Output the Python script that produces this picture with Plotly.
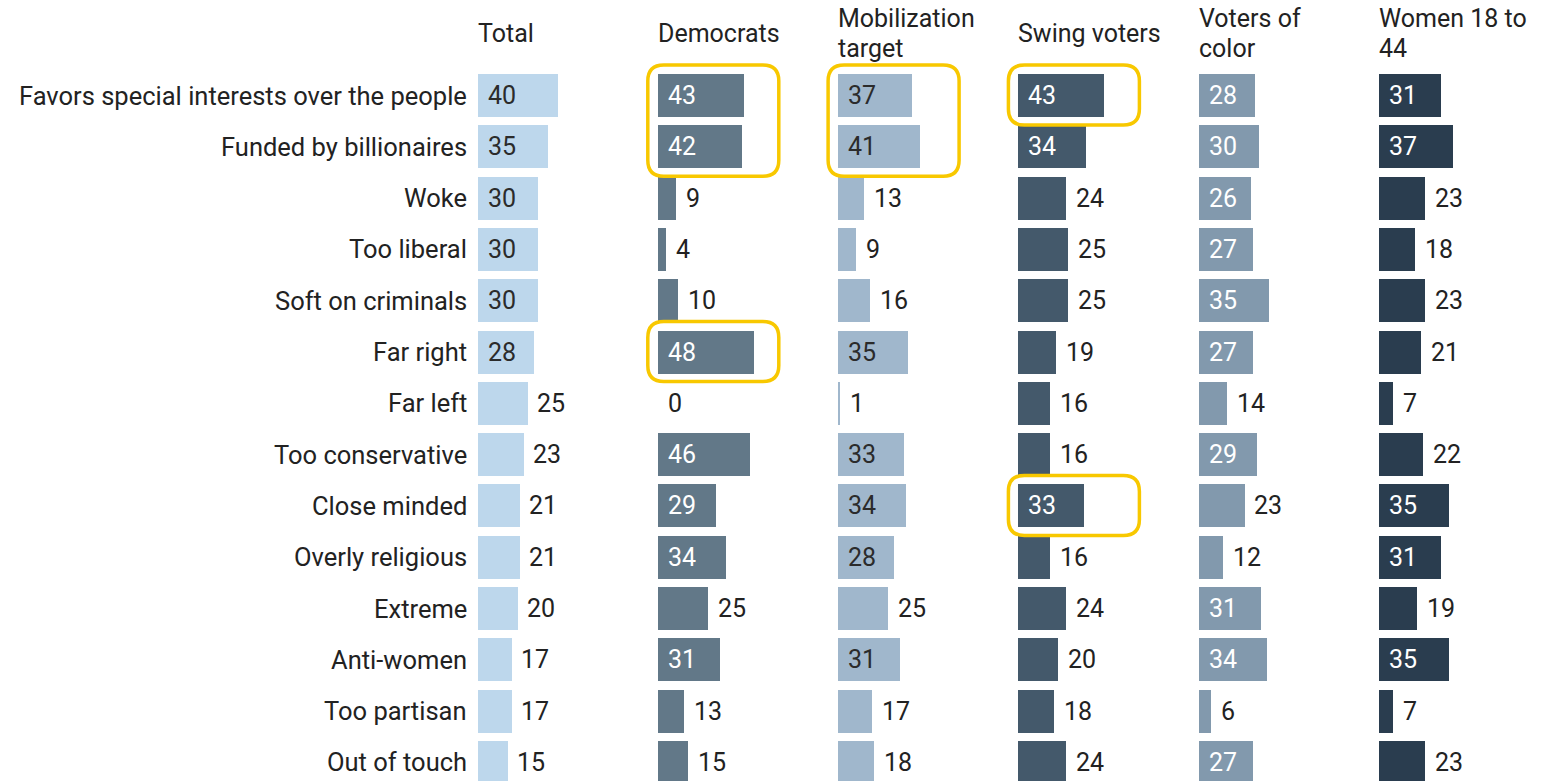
import plotly.graph_objects as go

# Attributes (rows, top to bottom)
attributes = [
    "Favors special interests over the people",
    "Funded by billionaires",
    "Woke",
    "Too liberal",
    "Soft on criminals",
    "Far right",
    "Far left",
    "Too conservative",
    "Close minded",
    "Overly religious",
    "Extreme",
    "Anti-women",
    "Too partisan",
    "Out of touch",
]

# Groups (columns); each header may wrap onto two lines
groups = [["Total"], ["Democrats"], ["Mobilization", "target"], ["Swing voters"],
          ["Voters of", "color"], ["Women 18 to", "44"]]

total = [40, 35, 30, 30, 30, 28, 25, 23, 21, 21, 20, 17, 17, 15]
democrats = [43, 42, 9, 4, 10, 48, 0, 46, 29, 34, 25, 31, 13, 15]
mobilization = [37, 41, 13, 9, 16, 35, 1, 33, 34, 28, 25, 31, 17, 18]
swing = [43, 34, 24, 25, 25, 19, 16, 16, 33, 16, 24, 20, 18, 24]
voters_of_color = [28, 30, 26, 27, 35, 27, 14, 29, 23, 12, 31, 34, 6, 27]
women_18_44 = [31, 37, 23, 18, 23, 21, 7, 22, 35, 31, 19, 35, 7, 23]

series = [total, democrats, mobilization, swing, voters_of_color, women_18_44]

# Highlighted cells: (column index, first row, last row)
highlights = [(1, 0, 1), (2, 0, 1), (3, 0, 0), (1, 5, 5), (3, 8, 8)]

# Styling
bar_colors = ["#bdd7ec", "#627888", "#a0b7cc", "#44596b", "#8299ad", "#2a3d4f"]
inside_text_colors = ["#2b2b2b", "white", "#2b2b2b", "white", "white", "white"]
text_color = "#222222"
box_color = "#f8c800"
font_family = "Roboto, Arial, sans-serif"
font_size = 25
label_font_size = 25.5

W, H = 1560, 781
px_per_unit = 1.99          # horizontal scale, pixels per percentage point
col_start = 477.5           # pixel x of the first column's baseline
col_pitch = 180.3           # distance between columns
col_lead = 16               # room left of each baseline (for highlight boxes)
col_width = 160             # pixel width right of the baseline
row0_center = 95.5          # pixel y of first row centre
row_pitch = 51.3            # distance between rows
bar_px = 43                 # bar thickness
header_center = 34          # pixel y of the header block centre
header_line = 30            # header line spacing
inside_threshold = 26

x_min = -col_lead / px_per_unit
y_top = -row0_center / row_pitch
y_bottom = (H - row0_center) / row_pitch

rows = list(range(len(attributes)))
fig = go.Figure()
layout_axes = {}
annotations = []
shapes = []

for k, (lines, vals) in enumerate(zip(groups, series)):
    axis_id = "x" if k == 0 else f"x{k + 1}"
    axis_key = "xaxis" if k == 0 else f"xaxis{k + 1}"
    base = col_start + k * col_pitch
    d0 = (base - col_lead) / W
    d1 = min(base + col_width, W) / W
    layout_axes[axis_key] = dict(
        domain=[d0, d1],
        range=[x_min, x_min + (d1 - d0) * W / px_per_unit],
        visible=False, fixedrange=True, anchor="y")

    fig.add_trace(go.Bar(
        x=vals, y=rows, orientation="h", xaxis=axis_id, yaxis="y",
        marker=dict(color=bar_colors[k], line=dict(width=0)),
        width=bar_px / row_pitch, hoverinfo="skip", showlegend=False,
    ))

    # Column header, one annotation per line
    n = len(lines)
    for j, line in enumerate(lines):
        y_px = header_center + (j - (n - 1) / 2) * header_line
        annotations.append(dict(
            xref=axis_id, yref="paper", x=0, y=1 - y_px / H,
            xanchor="left", yanchor="middle", xshift=-2,
            text=line, showarrow=False,
            font=dict(family=font_family, size=font_size, color=text_color),
        ))

    # Value labels: inside the bar for long bars, after the bar otherwise
    for i, v in enumerate(vals):
        inside = v >= inside_threshold
        annotations.append(dict(
            xref=axis_id, yref="y", x=0 if inside else v, y=i,
            xanchor="left", yanchor="middle", xshift=8,
            text=str(v), showarrow=False,
            font=dict(family=font_family, size=font_size,
                      color=inside_text_colors[k] if inside else text_color),
        ))

# Row labels
for i, label in enumerate(attributes):
    annotations.append(dict(
        xref="x", yref="y", x=0, y=i, xanchor="right", yanchor="middle",
        xshift=-9, text=label, showarrow=False,
        font=dict(family=font_family, size=label_font_size, color=text_color),
    ))

# Rounded highlight boxes
pad_left = 10 / px_per_unit
box_right = 121 / px_per_unit
rx = 16 / px_per_unit
ry = 16 / row_pitch
for col, r0, r1 in highlights:
    axis_id = "x" if col == 0 else f"x{col + 1}"
    left, right = -pad_left, box_right
    top = r0 - (bar_px / 2 + 9) / row_pitch
    bottom = r1 + (bar_px / 2 + 8) / row_pitch
    path = (
        f"M {left + rx},{top} L {right - rx},{top} Q {right},{top} {right},{top + ry} "
        f"L {right},{bottom - ry} Q {right},{bottom} {right - rx},{bottom} "
        f"L {left + rx},{bottom} Q {left},{bottom} {left},{bottom - ry} "
        f"L {left},{top + ry} Q {left},{top} {left + rx},{top} Z"
    )
    shapes.append(dict(type="path", path=path, xref=axis_id, yref="y",
                       line=dict(color=box_color, width=3.5), layer="above"))

fig.update_layout(
    width=W, height=H,
    margin=dict(l=0, r=0, t=0, b=0),
    paper_bgcolor="white", plot_bgcolor="white",
    barmode="overlay", bargap=0,
    yaxis=dict(range=[y_bottom, y_top], domain=[0, 1], visible=False,
               fixedrange=True),
    annotations=annotations, shapes=shapes,
    font=dict(family=font_family),
    **layout_axes,
)

fig.write_html("out.html", config={"displayModeBar": False})
